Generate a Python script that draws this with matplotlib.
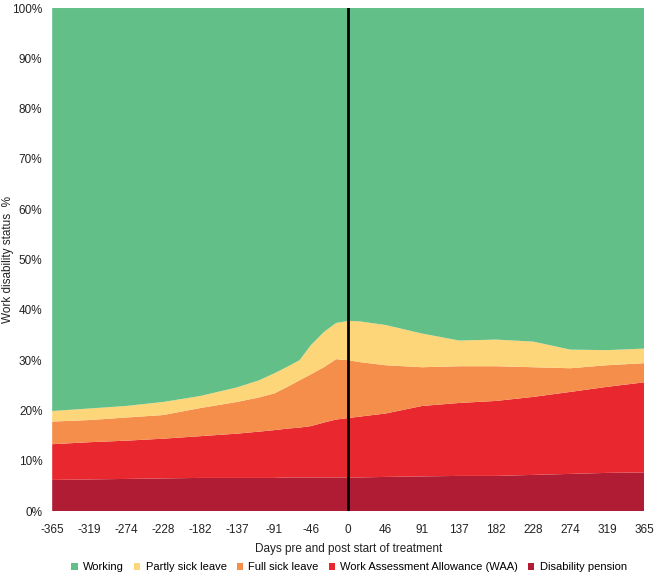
import matplotlib
matplotlib.use('Agg')
import matplotlib.pyplot as plt
from matplotlib.patches import Patch

plt.rcParams['font.family'] = ['Liberation Sans', 'DejaVu Sans']
plt.rcParams['axes.unicode_minus'] = False

# days relative to start of treatment
days = [-365, -319, -274, -228, -182, -137, -110, -91, -75, -60, -46, -30, -15, 0,
        15, 46, 91, 137, 182, 228, 274, 319, 365]

# share of patients (%) in each status
disability = [6.2, 6.3, 6.4, 6.5, 6.6, 6.6, 6.6, 6.6, 6.7, 6.7, 6.7, 6.7, 6.7, 6.7,
              6.7, 6.8, 6.9, 7.0, 7.0, 7.2, 7.4, 7.6, 7.7]
waa = [7.1, 7.4, 7.6, 7.9, 8.3, 8.8, 9.2, 9.5, 9.7, 9.9, 10.2, 10.9, 11.5, 11.8,
       12.1, 12.6, 14.0, 14.5, 14.9, 15.5, 16.3, 17.1, 17.9]
full_sick = [4.5, 4.4, 4.6, 4.7, 5.6, 6.3, 6.8, 7.3, 8.3, 9.4, 10.3, 11.0, 12.0, 11.5,
             10.8, 9.6, 7.7, 7.3, 6.9, 5.9, 4.7, 4.3, 3.8]
partly_sick = [2.1, 2.3, 2.3, 2.6, 2.4, 2.9, 3.4, 4.0, 4.0, 4.0, 5.8, 7.0, 7.2, 7.8,
               8.1, 8.0, 6.7, 5.1, 5.3, 5.1, 3.7, 3.0, 2.9]
working = [80.1, 79.6, 79.1, 78.3, 77.1, 75.4, 74.0, 72.6, 71.3, 70.0, 67.0, 64.4, 62.6, 62.2,
           62.3, 63.0, 64.7, 66.1, 65.9, 66.3, 67.9, 68.0, 67.7]

labels = ['Working', 'Partly sick leave', 'Full sick leave',
          'Work Assessment Allowance (WAA)', 'Disability pension']
colors = ['#62bf88', '#fdd67a', '#f58d4b', '#e8282e', '#b01c33']

xticks = [-365, -319, -274, -228, -182, -137, -91, -46, 0,
          46, 91, 137, 182, 228, 274, 319, 365]

fig = plt.figure(figsize=(6.69, 5.73), dpi=100)
ax = fig.add_axes([0.078, 0.108, 0.885, 0.878])

ax.stackplot(days, disability, waa, full_sick, partly_sick, working,
             colors=colors[::-1], linewidth=0)
ax.axvline(0, color='black', linewidth=2)

ax.set_xlim(-365, 365)
ax.set_ylim(0, 100)
ax.set_xticks(xticks)
ax.set_yticks(range(0, 101, 10))
ax.set_yticklabels([f'{v}%' for v in range(0, 101, 10)])
ax.tick_params(length=0, labelsize=8.5, colors='#222222')
ax.tick_params(axis='x', pad=9)
ax.tick_params(axis='y', pad=7)
for s in ax.spines.values():
    s.set_visible(False)

ax.set_xlabel('Days pre and post start of treatment', fontsize=8.5, color='#222222', labelpad=5)
ax.set_ylabel('Work disability status  %', fontsize=8.5, color='#222222')
ax.yaxis.set_label_coords(-0.064, 0.5)

handles = [Patch(facecolor=c, edgecolor='none') for c in colors]
fig.legend(handles, labels, loc='lower center', ncol=5, frameon=False,
           fontsize=8, bbox_to_anchor=(0.522, -0.016), handlelength=0.55,
           handleheight=0.55, handletextpad=0.5, columnspacing=0.9)

fig.savefig('out.png', dpi=100)
